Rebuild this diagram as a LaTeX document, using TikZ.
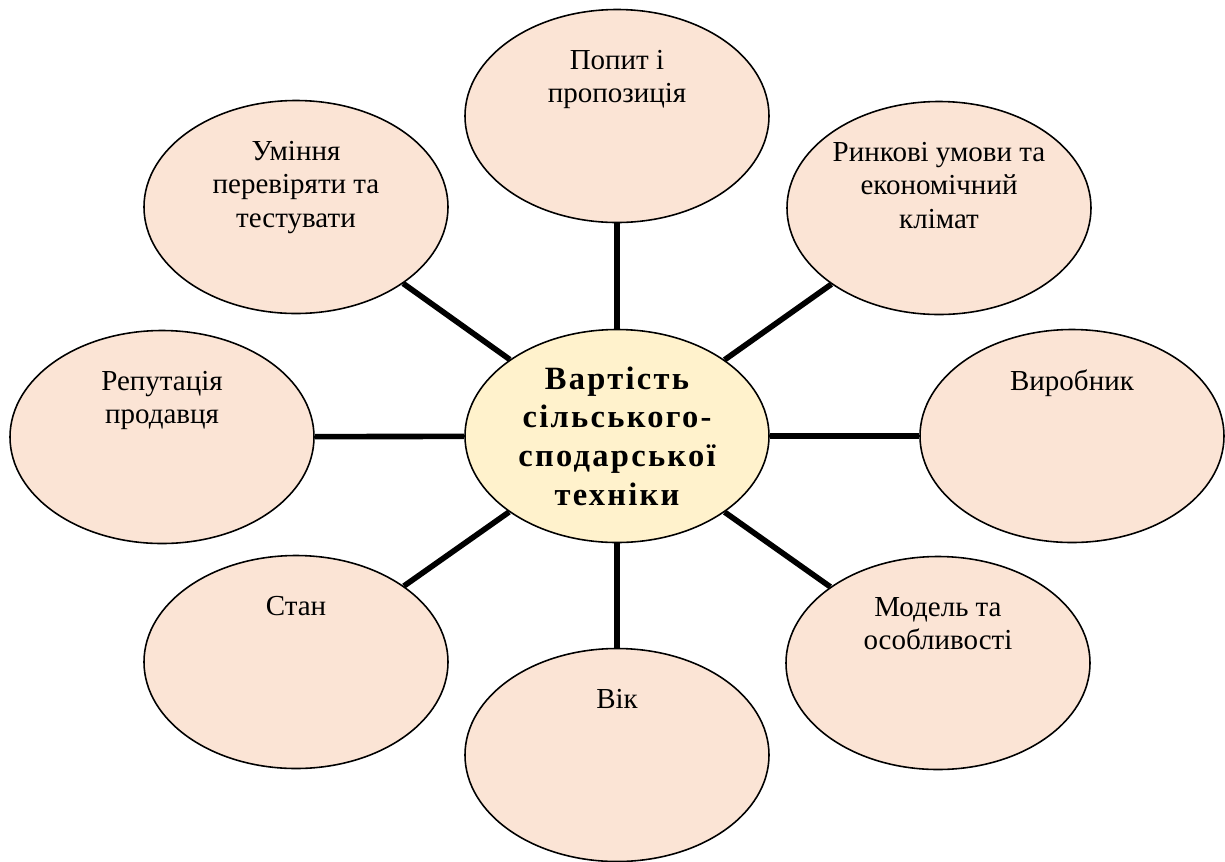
\documentclass[tikz,border=0pt]{standalone}
\usepackage{fontspec}
\setmainfont{Liberation Serif}
\usetikzlibrary{shapes.geometric,positioning}
\definecolor{peach}{HTML}{FBE4D5}
\definecolor{cream}{HTML}{FFF2CC}

\begin{document}
\begin{tikzpicture}[
  factor/.style={ellipse,draw,line width=0.9pt,fill=peach,minimum width=6.08cm,minimum height=4.26cm,inner sep=0pt},
  factortext/.style={anchor=north,inner sep=0pt,yshift=-0.82cm,align=center,font=\fontsize{16.5}{19}\selectfont},
  hub/.style={ellipse,draw,line width=0.9pt,fill=cream,minimum width=6.08cm,minimum height=4.26cm,inner sep=0pt,align=center,
    font=\bfseries\fontsize{18.5}{22}\selectfont\addfontfeature{LetterSpace=7}},
  spoke/.style={line width=3.2pt}]
\useasboundingbox (0,0) rectangle (24.5,-17.22);
% outer factors
\node[factor] (demand) at (12.34,-2.32) {};
\node[factor] (skills) at (5.92,-4.14) {};
\node[factor] (market) at (18.78,-4.16) {};
\node[factor] (maker) at (21.44,-8.72) {};
\node[factor] (model) at (18.76,-13.26) {};
\node[factor] (age) at (12.34,-15.10) {};
\node[factor] (state) at (5.92,-13.24) {};
\node[factor] (seller) at (3.24,-8.74) {};
\node[factortext] (demandt) at (demand.north) {Попит і\\пропозиція};
\node[factortext] (skillst) at (skills.north) {Уміння\\перевіряти та\\тестувати};
\node[factortext] (markett) at (market.north) {Ринкові умови та\\економічний\\клімат};
\node[factortext] (makert) at (maker.north) {Виробник};
\node[factortext] (modelt) at (model.north) {Модель та\\особливості};
\node[factortext] (aget) at (age.north) {Вік};
\node[factortext] (statet) at (state.north) {Стан};
\node[factortext] (sellert) at (seller.north) {Репутація\\продавця};
% centre
\node[hub] (cost) at (12.34,-8.72) {Вартість\\сільського-\\сподарської\\техніки};
\draw[spoke] (cost) -- (demand);
\draw[spoke] (cost) -- (skills);
\draw[spoke] (cost) -- (market);
\draw[spoke] (cost) -- (maker);
\draw[spoke] (cost) -- (model);
\draw[spoke] (cost) -- (age);
\draw[spoke] (cost) -- (state);
\draw[spoke] (cost) -- (seller);
\end{tikzpicture}
\end{document}
